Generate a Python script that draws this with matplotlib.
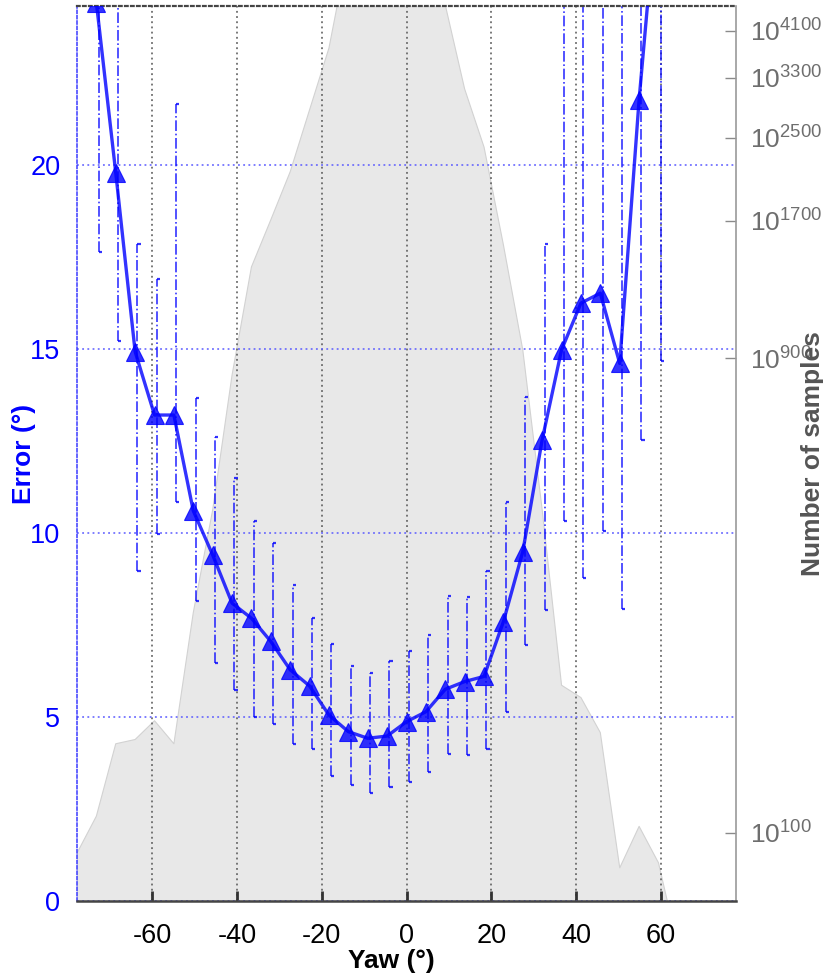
import numpy as np
import matplotlib
matplotlib.use("Agg")
import matplotlib.pyplot as plt

plt.rcParams['font.family'] = ['Liberation Sans', 'DejaVu Sans']
plt.rcParams['mathtext.fontset'] = 'custom'
plt.rcParams['mathtext.rm'] = 'Liberation Sans'
plt.rcParams['mathtext.it'] = 'Liberation Sans'
plt.rcParams['mathtext.bf'] = 'Liberation Sans:bold'
plt.rcParams['mathtext.default'] = 'regular'
plt.rcParams['axes.unicode_minus'] = False

# ---- data ----
yaw = [-77.71, -73.14, -68.57, -64.0, -59.43, -54.86, -50.29, -45.71, -41.14,
       -36.57, -32.0, -27.43, -22.86, -18.29, -13.71, -9.14, -4.57, 0.0, 4.57,
       9.14, 13.71, 18.29, 22.86, 27.43, 32.0, 36.57, 41.14, 45.71, 50.29,
       54.86, 59.43, 64.0, 68.57, 73.14, 77.71]

samples = [91, 108, 151, 154, 168, 151, 277, 446, 833, 1374, 1709, 2135, 2844,
           3786, 6010, 7000, 7600, 7700, 6800, 4625, 3133, 2393, 1521, 935, 446,
           198, 187, 159, 85, 103, 87, 59, 40, 30, 20]

err_yaw = yaw[1:31]
err_mean = [24.4, 19.78, 14.92, 13.2, 13.2, 10.6, 9.4, 8.09, 7.68, 7.05, 6.28,
            5.84, 5.05, 4.6, 4.42, 4.48, 4.87, 5.14, 5.75, 5.96, 6.1, 7.59, 9.49,
            12.53, 14.97, 16.24, 16.51, 14.6, 21.77, 27.7]
err_upper = [31.2, 26.3, 17.84, 16.89, 21.65, 13.66, 12.59, 11.49, 10.33, 9.72,
             8.59, 7.68, 6.97, 6.38, 6.2, 6.53, 6.8, 7.23, 8.29, 8.26, 8.95,
             10.85, 13.7, 17.84, 27.0, 25.6, 26.5, 25.8, 31.0, 36.0]
err_lower = [17.64, 15.2, 8.95, 9.97, 10.85, 8.16, 6.46, 5.73, 5.01, 4.82, 4.27,
             4.14, 3.4, 3.16, 2.94, 3.09, 3.24, 3.5, 3.99, 3.97, 4.12, 5.14,
             6.96, 7.91, 10.31, 8.78, 10.05, 7.93, 12.53, 14.66]

xticks = [-60, -40, -20, 0, 20, 40, 60]
yticks = [0, 5, 10, 15, 20]
rticks = [100, 900, 1700, 2500, 3300, 4100]
rtick_labels = [r'$10^{100}$', r'$10^{900}$', r'$10^{1700}$', r'$10^{2500}$',
                r'$10^{3300}$', r'$10^{4100}$']

# ---- figure ----
W, H = 823, 977
fig = plt.figure(figsize=(W / 100, H / 100), dpi=100)
ax = fig.add_axes([77 / W, 1 - 901 / H, (736 - 77) / W, (901 - 6) / H])
ax2 = ax.twinx()
ax.set_zorder(ax2.get_zorder() + 1)
ax.patch.set_visible(False)

blue = '#0000ff'
gray_txt = '#6e6e6e'

# samples area (right log axis)
ax2.set_yscale('log')
ax2.fill_between(yaw, samples, 1, facecolor='#e8e8e8', edgecolor='#d2d2d2',
                 linewidth=0.8)
ax2.set_ylim(72.9, 4600)
ax2.set_yticks(rticks)
ax2.set_yticklabels(rtick_labels)
ax2.minorticks_off()
ax2.tick_params(axis='y', direction='in', length=8, width=1, colors='#8a8a8a',
                labelcolor=gray_txt, labelsize=19, pad=10)
ax2.set_ylabel('Number of samples', color='#555555', fontsize=19,
               fontweight='bold')
ax2.yaxis.set_label_coords(1.099, 0.5)
for s in ['left', 'top', 'bottom']:
    ax2.spines[s].set_visible(False)
ax2.spines['right'].set_color('#9a9a9a')
ax2.spines['right'].set_linewidth(1.2)

# error axis
ax.set_xlim(-77.71, 77.71)
ax.set_ylim(0, 24.31)
ax.set_axisbelow(True)
ax.grid(axis='x', color='#555555', linestyle=(0, (1.2, 2.2)), linewidth=1.1)
ax.grid(axis='y', color='#5a5aff', linestyle=(0, (1.2, 2.2)), linewidth=1.1)

off = 0.55
cap = 0.75
ex = np.array(err_yaw) + off
ax.vlines(ex, err_lower, err_upper, colors=blue, linestyles='-.',
          linewidth=1.2, alpha=0.8, zorder=2)
ax.hlines(err_lower, ex, ex + cap, colors=blue, linewidth=1.6, alpha=0.8,
          zorder=2)
ax.hlines(err_upper, ex, ex + cap, colors=blue, linewidth=1.6, alpha=0.8,
          zorder=2)

ax.plot(err_yaw, err_mean, color=blue, linewidth=2.4, marker='^',
        markersize=13, markeredgewidth=0.8, alpha=0.8, zorder=3)

ax.set_xticks(xticks)
ax.set_xticklabels([str(v) for v in xticks])
ax.set_yticks(yticks)
ax.tick_params(axis='x', direction='in', length=7, width=2, colors='#333333',
               labelcolor='black', labelsize=19.5, pad=16)
ax.tick_params(axis='y', direction='in', length=0, colors=blue,
               labelcolor=blue, labelsize=19.5, pad=12)
ax.tick_params(axis='y', which='both', right=False)

ax.set_xlabel('Yaw (°)', fontsize=19, fontweight='bold')
ax.xaxis.set_label_coords(0.477, -0.054)
ax.set_ylabel('Error (°)', fontsize=19, fontweight='bold', color=blue)
ax.yaxis.set_label_coords(-0.062, 0.5)

ax.spines['right'].set_visible(False)
ax.spines['left'].set_color('#3a3aff')
ax.spines['left'].set_linestyle((0, (2, 1.5)))
ax.spines['left'].set_linewidth(1.1)
ax.spines['top'].set_color('#444444')
ax.spines['top'].set_linestyle((0, (1.2, 1.5)))
ax.spines['top'].set_linewidth(1.6)
ax.spines['bottom'].set_color('#444444')
ax.spines['bottom'].set_linewidth(1.8)

fig.savefig('out.png', dpi=100)
